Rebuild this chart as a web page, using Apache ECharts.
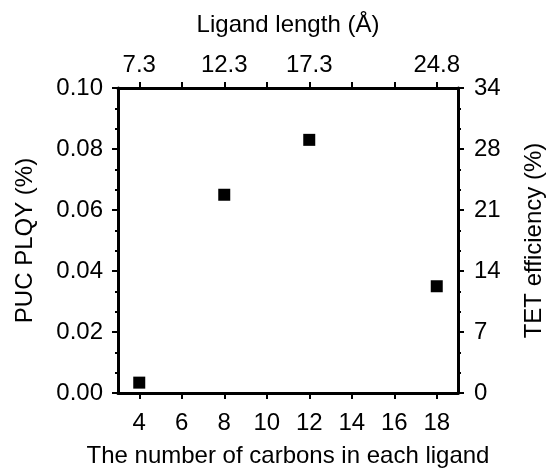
<!DOCTYPE html>
<html>
<head>
    <meta charset="utf-8">
    <title>PUC PLQY vs ligand</title>
    <script src="https://cdn.jsdelivr.net/npm/echarts@6/dist/echarts.min.js"></script>
    <style>
        html, body { margin: 0; padding: 0; background: #fff; }
        #chart1 { width: 547px; height: 468px; }
    </style>
</head>
<body>
<div id="chart1"></div>
<script>
    // data
    var carbons = [4, 8, 12, 18];
    var plqy = [0.0034, 0.065, 0.083, 0.035];
    var carbonTicks = [4, 6, 8, 10, 12, 14, 16, 18];
    var ligandLengths = ['7.3', '12.3', '17.3', '24.8'];
    var tetLabels = ['0', '7', '14', '21', '28', '34'];

    var font = 'Liberation Sans, Arial, sans-serif';
    var black = '#000000';

    function axisLine() {
        return { show: true, onZero: false, lineStyle: { color: black, width: 3, opacity: 1 } };
    }
    function tick(extra) {
        return Object.assign({ show: true, inside: false, length: 6, lineStyle: { color: black, width: 2 } }, extra || {});
    }
    function minor() {
        return { show: true, splitNumber: 3, length: 3, lineStyle: { color: black, width: 2 } };
    }
    function label(extra) {
        return Object.assign({ color: black, fontFamily: font, fontSize: 24 }, extra || {});
    }
    function title() {
        return { color: black, fontFamily: font, fontSize: 24 };
    }

    var chart = echarts.init(document.getElementById('chart1'));
    chart.setOption({
        animation: false,
        backgroundColor: '#fff',
        grid: { left: 118, right: 89, top: 88, bottom: 75, containLabel: false, outerBoundsMode: 'none' },
        xAxis: [{
            type: 'value', position: 'bottom', min: 3, max: 19,
            name: 'The number of carbons in each ligand',
            nameLocation: 'middle', nameGap: 51, nameTextStyle: title(),
            axisLine: axisLine(), splitLine: { show: false },
            axisTick: tick({ customValues: carbonTicks }),
            axisLabel: label({ customValues: carbonTicks, margin: 18 })
        }, {
            type: 'value', position: 'top', min: 3, max: 19,
            name: 'Ligand length (Å)',
            nameLocation: 'middle', nameGap: 51, nameTextStyle: title(),
            axisLine: axisLine(), splitLine: { show: false },
            axisTick: tick({ customValues: carbonTicks }),
            axisLabel: label({
                customValues: carbons, margin: 11,
                formatter: function (v) { return ligandLengths[carbons.indexOf(v)]; }
            })
        }],
        yAxis: [{
            type: 'value', position: 'left', min: 0, max: 0.1, interval: 0.02,
            name: 'PUC PLQY (%)',
            nameLocation: 'middle', nameGap: 81, nameTextStyle: title(),
            axisLine: axisLine(), splitLine: { show: false },
            axisTick: tick(),
            minorTick: minor(),
            axisLabel: label({
                margin: 15,
                formatter: function (v) { return v.toFixed(2); }
            })
        }, {
            type: 'value', position: 'right', min: 0, max: 34, interval: 6.8,
            name: 'TET efficiency (%)',
            nameLocation: 'middle', nameGap: 64, nameTextStyle: title(),
            axisLine: axisLine(), splitLine: { show: false },
            axisTick: tick(),
            minorTick: minor(),
            axisLabel: label({
                margin: 16,
                formatter: function (v, i) { return tetLabels[i]; }
            })
        }],
        series: [{
            type: 'scatter',
            xAxisIndex: 0, yAxisIndex: 0,
            symbol: 'rect', symbolSize: 12,
            itemStyle: { color: black, opacity: 1 },
            data: carbons.map(function (c, i) { return [c, plqy[i]]; })
        }]
    });
</script>
</body>
</html>
